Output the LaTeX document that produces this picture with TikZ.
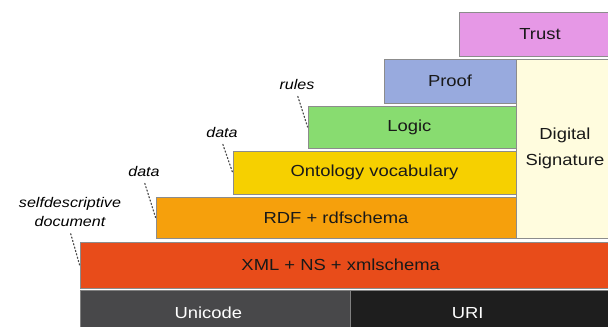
\documentclass[tikz,border=0pt]{standalone}
\usepackage{fontspec}
\setmainfont{Liberation Sans}
\newfontfamily\layerfont[FakeStretch=1.15]{Liberation Sans}
\usetikzlibrary{fit}

\definecolor{trustcol}{RGB}{230,152,230}
\definecolor{proofcol}{RGB}{152,170,222}
\definecolor{logiccol}{RGB}{136,220,112}
\definecolor{ontocol}{RGB}{246,208,0}
\definecolor{rdfcol}{RGB}{246,160,12}
\definecolor{xmlcol}{RGB}{232,76,26}
\definecolor{sigcol}{RGB}{255,252,222}
\definecolor{unicol}{RGB}{72,72,74}
\definecolor{uricol}{RGB}{30,30,30}

\tikzset{
    layer/.style = {draw = black!45, line width = 0.6pt, inner sep = 0pt},
    base/.style = {layer, draw = gray},
    caption/.style = {font = \layerfont\fontsize{12}{16}\selectfont,
        text = black!90, align = center, inner sep = 1pt},
    note/.style = {font = \layerfont\itshape\fontsize{10.5}{14}\selectfont,
        align = center},
    hint/.style = {draw = black!70, line width = 0.9pt,
        dash pattern = on 0.9pt off 1.7pt, line cap = round, shorten <= 2pt}
}

\begin{document}
\begin{tikzpicture}[x = 0.75pt, y = -0.75pt]
    \useasboundingbox (0, 0) rectangle (608, 326);
    \clip (0, 0) rectangle (608, 326);

    % rechts
    \node [layer, fill = sigcol, fit = {(516, 59) (614, 238)}] (sig) {};
    \node [layer, fill = trustcol, fit = {(459, 12) (621, 56)}] (trust) {};

    % Stufen
    \node [layer, fill = proofcol, fit = {(384, 59) (516, 103)}] (proof) {};
    \node [layer, fill = logiccol, fit = {(308, 106) (516, 148)}] (logic) {};
    \node [layer, fill = ontocol, fit = {(233, 151) (516, 194)}] (onto) {};
    \node [layer, fill = rdfcol, fit = {(156, 197) (516, 238)}] (rdf) {};
    \node [layer, fill = xmlcol, fit = {(80, 242) (612, 288)}] (xml) {};

    % unten
    \node [base, fill = unicol, fit = {(80, 290) (350, 336)}] (unicode) {};
    \node [base, fill = uricol, fit = {(350, 290) (612, 336)}] (uri) {};

    % Beschriftung
    \node [caption, font = \layerfont\fontsize{12}{19}\selectfont]
        (sigText) at (sig.center) {Digital\\Signature};
    \node [caption] (trustText) at (trust.center) {Trust};
    \node [caption] (proofText) at (proof.center) {Proof};
    \node [caption] (logicText) at ([xshift = -2pt] logic.center) {Logic};
    \node [caption] (ontoText) at (onto.center) {Ontology vocabulary};
    \node [caption] (rdfText) at (rdf.center) {RDF + rdfschema};
    \node [caption] (xmlText) at ([xshift = -4pt] xml.center) {XML + NS + xmlschema};
    \node [caption, text = white] (unicodeText) at ([xshift = -5pt] unicode.center) {Unicode};
    \node [caption, text = white] (uriText) at ([xshift = -10pt] uri.center) {URI};

    % Hinweise
    \node [note] (selfdoc) at (70, 212) {selfdescriptive\\document};
    \node [note] (rdfdata) at (144, 171) {data};
    \node [note] (ontodata) at (222, 132) {data};
    \node [note] (rules) at (297, 84) {rules};

    \draw [hint] (selfdoc.south) -- (xml.west);
    \draw [hint] (rdfdata.south) -- (rdf.west);
    \draw [hint] (ontodata.south) -- (onto.west);
    \draw [hint] (rules.south) -- (logic.west);
\end{tikzpicture}
\end{document}
